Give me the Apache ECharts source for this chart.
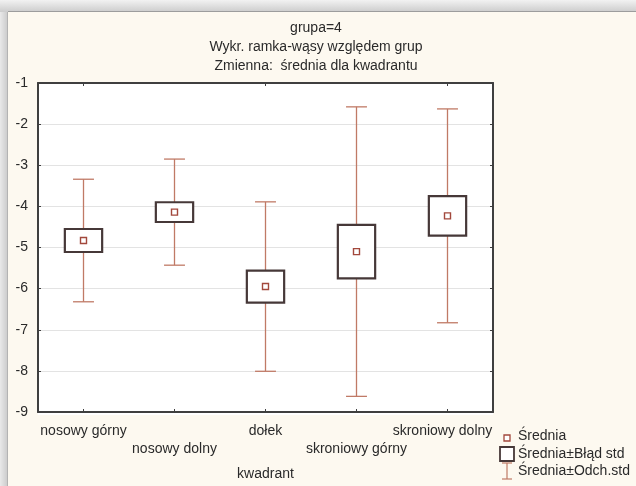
<!DOCTYPE html>
<html>
<head>
<meta charset="utf-8">
<script src="https://cdn.jsdelivr.net/npm/echarts@6/dist/echarts.min.js"></script>
<style>
  html, body { margin: 0; padding: 0; background: #ffffff; }
  #chart { width: 636px; height: 486px; }
</style>
</head>
<body>
<div id="chart"></div>
<script>
// Quadrant categories and per-category statistics (mean, standard error, standard deviation)
const categories = ['nosowy górny', 'nosowy dolny', 'dołek', 'skroniowy górny', 'skroniowy dolny'];
const means = [-4.83, -4.14, -5.95, -5.10, -4.23];
const stdErr = [0.28, 0.24, 0.39, 0.65, 0.48];
const stdDev = [1.49, 1.29, 2.06, 3.52, 2.60];

const yMin = -9;
const yMax = -1;
const yStep = 1;

const titleLines = ['grupa=4', 'Wykr. ramka-wąsy względem grup', 'Zmienna:  średnia dla kwadrantu'];
const axisName = 'kwadrant';
const legendLabels = ['Średnia', 'Średnia±Błąd std', 'Średnia±Odch.std'];

const FONT = '"Liberation Sans", Arial, sans-serif';
const FONT_SIZE = 14;
const TEXT_COLOR = '#2a2a2a';
const FRAME_COLOR = '#3f3f3f';
const WHISKER_COLOR = '#c07a66';
const BOX_COLOR = '#463838';
const MEAN_COLOR = '#a2483c';
const PANEL_BG = '#fdf9f0';

const rows = categories.map((c, i) => [i, means[i], stdErr[i], stdDev[i]]);

function whiskerItem(params, api) {
  const i = api.value(0), m = api.value(1), sd = api.value(3);
  const top = api.coord([i, m + sd]);
  const bot = api.coord([i, m - sd]);
  const band = api.size([1, 0])[0];
  const cap = band * 0.23;
  const style = { stroke: WHISKER_COLOR, lineWidth: 1.3 };
  return {
    type: 'group',
    children: [
      { type: 'line', shape: { x1: top[0], y1: top[1], x2: bot[0], y2: bot[1] }, style },
      { type: 'line', shape: { x1: top[0] - cap / 2, y1: top[1], x2: top[0] + cap / 2, y2: top[1] }, style },
      { type: 'line', shape: { x1: bot[0] - cap / 2, y1: bot[1], x2: bot[0] + cap / 2, y2: bot[1] }, style }
    ]
  };
}

function boxItem(params, api) {
  const i = api.value(0), m = api.value(1), se = api.value(2);
  const top = api.coord([i, m + se]);
  const bot = api.coord([i, m - se]);
  const band = api.size([1, 0])[0];
  const w = band * 0.41;
  return {
    type: 'rect',
    shape: { x: top[0] - w / 2, y: top[1], width: w, height: bot[1] - top[1] },
    style: { fill: '#ffffff', stroke: BOX_COLOR, lineWidth: 2.2 }
  };
}

function meanItem(params, api) {
  const p = api.coord([api.value(0), api.value(1)]);
  const s = 6;
  return {
    type: 'rect',
    shape: { x: p[0] - s / 2, y: p[1] - s / 2, width: s, height: s },
    style: { fill: '#ffffff', stroke: MEAN_COLOR, lineWidth: 1.4 }
  };
}

const chart = echarts.init(document.getElementById('chart'), null, { renderer: 'canvas' });

const legendX = 507;
const legendRows = [437, 454, 471];

chart.setOption({
  backgroundColor: '#ffffff',
  animation: false,
  title: {
    text: titleLines.join('\n'),
    left: 316,
    top: 19,
    padding: 0,
    textAlign: 'center',
    textStyle: { fontFamily: FONT, fontSize: FONT_SIZE, fontWeight: 'normal', color: TEXT_COLOR, lineHeight: 19 }
  },
  graphic: [
    // panel frame with soft shadow strips
    { type: 'rect', z: -10, shape: { x: 0, y: 0, width: 636, height: 486 },
      style: { fill: new echarts.graphic.LinearGradient(0, 0, 0, 1, [
        { offset: 0, color: '#f2f2f2' }, { offset: 0.03, color: '#c4c4c4' }, { offset: 1, color: '#e6e6e6' }]) } },
    { type: 'rect', z: -9, shape: { x: 0, y: 12, width: 8, height: 474 },
      style: { fill: new echarts.graphic.LinearGradient(0, 0, 1, 0, [
        { offset: 0, color: '#e9e9e9' }, { offset: 1, color: '#c9c9c9' }]) } },
    { type: 'rect', z: -8, shape: { x: 8, y: 12, width: 628, height: 474 }, style: { fill: PANEL_BG } },
    { type: 'line', z: -7, shape: { x1: 8, y1: 11.5, x2: 636, y2: 11.5 }, style: { stroke: '#9d9d9d', lineWidth: 1 } },
    { type: 'line', z: -7, shape: { x1: 7.5, y1: 12, x2: 7.5, y2: 486 }, style: { stroke: '#b3b3b3', lineWidth: 1 } },
    // plot area background
    { type: 'rect', z: -6, shape: { x: 38, y: 83, width: 455, height: 332 }, style: { fill: '#ffffff' } },
    // legend
    { type: 'rect', shape: { x: legendX - 3, y: legendRows[0] - 2, width: 6, height: 6 },
      style: { fill: '#ffffff', stroke: MEAN_COLOR, lineWidth: 1.3 } },
    { type: 'rect', shape: { x: legendX - 7, y: legendRows[1] - 7, width: 14, height: 14 },
      style: { fill: '#ffffff', stroke: BOX_COLOR, lineWidth: 1.8 } },
    { type: 'group', children: [
      { type: 'line', shape: { x1: legendX, y1: legendRows[2] - 8, x2: legendX, y2: legendRows[2] + 8 }, style: { stroke: WHISKER_COLOR, lineWidth: 1.2 } },
      { type: 'line', shape: { x1: legendX - 5, y1: legendRows[2] - 8, x2: legendX + 5, y2: legendRows[2] - 8 }, style: { stroke: WHISKER_COLOR, lineWidth: 1.2 } },
      { type: 'line', shape: { x1: legendX - 5, y1: legendRows[2] + 8, x2: legendX + 5, y2: legendRows[2] + 8 }, style: { stroke: WHISKER_COLOR, lineWidth: 1.2 } }
    ] },
    ...legendLabels.map((t, k) => ({
      type: 'text', x: 518, y: legendRows[k] - (k === 0 ? 1 : 0),
      style: { text: t, fontFamily: FONT, fontSize: FONT_SIZE, fill: TEXT_COLOR, verticalAlign: 'middle', textAlign: 'left' }
    }))
  ],
  grid: { left: 38, right: 143, top: 83, bottom: 71, containLabel: false },
  xAxis: [
    {
      type: 'category',
      data: categories,
      position: 'bottom',
      boundaryGap: true,
      name: axisName,
      nameLocation: 'middle',
      nameGap: 55,
      nameTextStyle: { fontFamily: FONT, fontSize: FONT_SIZE, color: TEXT_COLOR },
      axisLine: { show: true, lineStyle: { color: FRAME_COLOR, width: 2 } },
      axisTick: { show: true, inside: true, alignWithLabel: true, length: 3, lineStyle: { color: FRAME_COLOR } },
      axisLabel: {
        interval: 0,
        margin: 10,
        fontFamily: FONT,
        fontSize: FONT_SIZE,
        color: TEXT_COLOR,
        lineHeight: 18,
        // alternate rows; the last label is nudged left to clear the legend
        formatter: (v, idx) => {
          if (idx === categories.length - 1) return '{last|' + v + '}';
          return idx % 2 === 1 ? '\n' + v : v;
        },
        rich: {
          last: { fontFamily: FONT, fontSize: FONT_SIZE, color: TEXT_COLOR, lineHeight: 18, padding: [0, 10, 0, 0] }
        }
      },
      splitLine: { show: false }
    },
    {
      type: 'category',
      data: categories,
      position: 'top',
      boundaryGap: true,
      axisLine: { show: true, lineStyle: { color: FRAME_COLOR, width: 2 } },
      axisTick: { show: true, inside: true, alignWithLabel: true, length: 3, lineStyle: { color: FRAME_COLOR } },
      axisLabel: { show: false },
      splitLine: { show: false }
    }
  ],
  yAxis: [
    {
      type: 'value',
      min: yMin,
      max: yMax,
      interval: yStep,
      position: 'left',
      axisLine: { show: true, lineStyle: { color: FRAME_COLOR, width: 2 } },
      axisTick: { show: true, inside: true, length: 3, lineStyle: { color: FRAME_COLOR } },
      axisLabel: { margin: 10, fontFamily: FONT, fontSize: FONT_SIZE, color: TEXT_COLOR },
      splitLine: { show: true, lineStyle: { color: '#e3e3e3', width: 1 } }
    },
    {
      type: 'value',
      min: yMin,
      max: yMax,
      interval: yStep,
      position: 'right',
      axisLine: { show: true, lineStyle: { color: FRAME_COLOR, width: 2 } },
      axisTick: { show: true, inside: true, length: 3, lineStyle: { color: FRAME_COLOR } },
      axisLabel: { show: false },
      splitLine: { show: false }
    }
  ],
  series: [
    { name: legendLabels[2], type: 'custom', renderItem: whiskerItem, data: rows, encode: { x: 0, y: 1 }, z: 2 },
    { name: legendLabels[1], type: 'custom', renderItem: boxItem, data: rows, encode: { x: 0, y: 1 }, z: 3 },
    { name: legendLabels[0], type: 'custom', renderItem: meanItem, data: rows, encode: { x: 0, y: 1 }, z: 4 }
  ]
});
</script>
</body>
</html>
